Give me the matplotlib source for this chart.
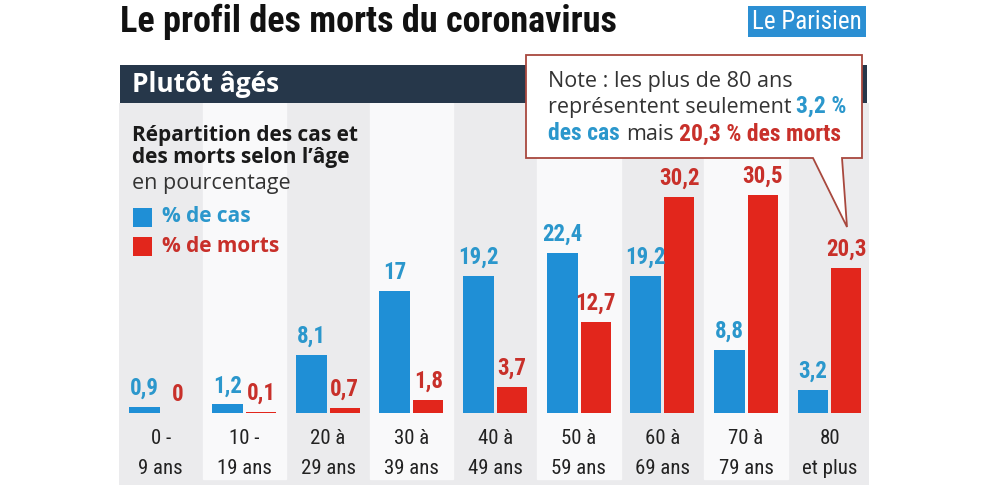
import matplotlib
matplotlib.use("Agg")
import matplotlib.pyplot as plt
from matplotlib.patches import Rectangle, Polygon

# ==========================
# Data
# ==========================
categories = ["0 -\n9 ans", "10 -\n19 ans", "20 à\n29 ans", "30 à\n39 ans", "40 à\n49 ans",
              "50 à\n59 ans", "60 à\n69 ans", "70 à\n79 ans", "80\net plus"]
pct_cases = [0.9, 1.2, 8.1, 17, 19.2, 22.4, 19.2, 8.8, 3.2]
pct_deaths = [0, 0.1, 0.7, 1.8, 3.7, 12.7, 30.2, 30.5, 20.3]

BLUE = "#1f8fd6"
RED = "#e2261c"
BLUE_TXT = "#2b97cc"
RED_TXT = "#c8302a"
NAVY = "#26374a"

NARROW = ["Roboto Condensed", "DejaVu Sans"]
SANS = ["Open Sans", "DejaVu Sans"]

W, H = 981, 490
fig = plt.figure(figsize=(W / 100, H / 100), dpi=100)
fig.patch.set_facecolor("white")


def fx(x):
    return x / W


def fy(y):
    return 1 - y / H


def fmt(v):
    return f"{v:g}".replace(".", ",")


# ==========================
# Bars
# ==========================
ax = fig.add_axes([fx(119), fy(485), fx(869 - 119), (485 - 103) / H])
ax.set_facecolor("#ebebed")
ax.set_xlim(-0.5, 8.47)
ax.set_ylim(-10.07, 43.36)
for s in ax.spines.values():
    s.set_visible(False)
ax.set_xticks([])
ax.set_yticks([])

for i in range(1, len(categories), 2):
    ax.axvspan(i - 0.5, i + 0.5, ymin=0.015, color="#f9f9fa", zorder=0)

x = list(range(len(categories)))
ax.bar([i - 0.2 for i in x], pct_cases, width=0.37, color=BLUE, zorder=2)
ax.bar([i + 0.2 for i in x], pct_deaths, width=0.36, color=RED, zorder=2)

for i in x:
    ax.text(i - 0.2, pct_cases[i] + 1.0, fmt(pct_cases[i]), ha="center", va="bottom",
            color=BLUE_TXT, fontsize=16.5, fontweight="bold", family=NARROW, zorder=3)
    ax.text(i + 0.2, pct_deaths[i] + 1.0, fmt(pct_deaths[i]), ha="center", va="bottom",
            color=RED_TXT, fontsize=16.5, fontweight="bold", family=NARROW, zorder=3)
    top, bottom = categories[i].split("\n")
    ax.text(i, -3.6, top, ha="center", va="center", fontsize=15, color="#222222",
            family=NARROW)
    ax.text(i, -7.8, bottom, ha="center", va="center", fontsize=15, color="#222222",
            family=NARROW)

# ==========================
# Header
# ==========================
fig.text(fx(120), fy(22), "Le profil des morts du coronavirus", ha="left", va="center",
         fontsize=26, fontweight="bold", color="#111111", family=NARROW)

fig.add_artist(Rectangle((fx(748), fy(37)), fx(118), 31 / H, transform=fig.transFigure,
                         facecolor="#2b8fd3", edgecolor="none"))
fig.text(fx(807), fy(22), "Le Parisien", ha="center", va="center", fontsize=18,
         color="white", family=NARROW)

fig.add_artist(Rectangle((fx(120), fy(103)), fx(747), 38 / H, transform=fig.transFigure,
                         facecolor=NAVY, edgecolor="none"))
fig.text(fx(132), fy(85), "Plutôt âgés", ha="left", va="center", fontsize=19,
         fontweight="bold", color="white", family=SANS)

# subtitle + legend
fig.text(fx(132), fy(135), "Répartition des cas et", ha="left", va="center",
         fontsize=15, fontweight="bold", color="#1a1a1a", family=SANS)
fig.text(fx(132), fy(158), "des morts selon l’âge", ha="left", va="center",
         fontsize=15, fontweight="bold", color="#1a1a1a", family=SANS)
fig.text(fx(132), fy(183), "en pourcentage", ha="left", va="center",
         fontsize=15.5, color="#333333", family=SANS)

fig.add_artist(Rectangle((fx(133), fy(227)), fx(19), 19 / H, transform=fig.transFigure,
                         facecolor=BLUE, edgecolor="none"))
fig.add_artist(Rectangle((fx(133), fy(256)), fx(19), 19 / H, transform=fig.transFigure,
                         facecolor=RED, edgecolor="none"))
fig.text(fx(162), fy(217), "% de cas", ha="left", va="center", fontsize=15,
         fontweight="bold", color=BLUE_TXT, family=SANS)
fig.text(fx(162), fy(246), "% de morts", ha="left", va="center", fontsize=15,
         fontweight="bold", color=RED_TXT, family=SANS)

# ==========================
# Note bubble
# ==========================
pts = [(526, 55), (862, 55), (862, 158), (842, 158), (847, 227), (813, 158), (526, 158)]
fig.add_artist(Polygon([(fx(a), fy(b)) for a, b in pts], closed=True,
                       transform=fig.transFigure, facecolor="white",
                       edgecolor="#a8483e", linewidth=1.3, zorder=5))

note_fs = 15.5
bold_fs = 17
fig.text(fx(548), fy(82), "Note : les plus de 80 ans", ha="left", va="center",
         fontsize=note_fs, color="#333333", family=SANS, zorder=6)
t = fig.text(fx(548), fy(108), "représentent seulement", ha="left", va="center",
             fontsize=note_fs, color="#333333", family=SANS, zorder=6)
fig.add_artist(plt.Annotation("3,2 %", xy=(1, 0), xycoords=t, xytext=(5, 1),
                              textcoords="offset pixels", va="bottom", ha="left",
                              fontsize=bold_fs, fontweight="bold", color=BLUE_TXT,
                              family=NARROW, zorder=6))
t = fig.text(fx(548), fy(134), "des cas", ha="left", va="center", fontsize=bold_fs,
             fontweight="bold", color=BLUE_TXT, family=NARROW, zorder=6)
t2 = fig.add_artist(plt.Annotation("mais", xy=(1, 0), xycoords=t, xytext=(6, 1),
                                   textcoords="offset pixels", va="bottom", ha="left",
                                   fontsize=note_fs, color="#333333", family=SANS, zorder=6))
fig.add_artist(plt.Annotation("20,3 % des morts", xy=(1, 0), xycoords=t2, xytext=(6, -1),
                              textcoords="offset pixels", va="bottom", ha="left",
                              fontsize=bold_fs, fontweight="bold", color=RED_TXT,
                              family=NARROW, zorder=6))

fig.savefig("out.png", dpi=100)
